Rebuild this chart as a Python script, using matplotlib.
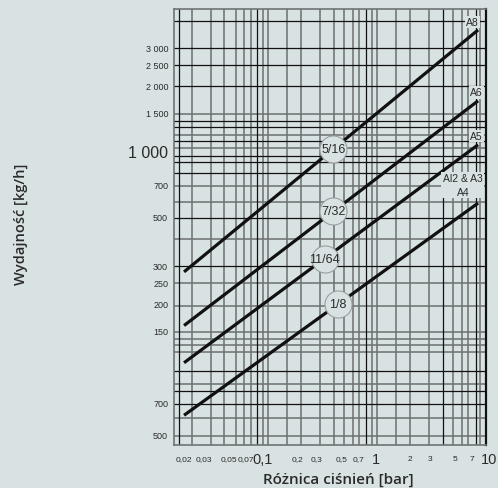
import numpy as np
import matplotlib
matplotlib.use("Agg")
import matplotlib.pyplot as plt
import matplotlib.transforms as mtrans

# ---------------- data ----------------
series_names = ["A8", "A6", "A5", "A4"]
orifice_sizes = ["5/16", "7/32", "11/64", "1/8"]
pressure_diff = [0.02, 8.0]              # bar
flow_A8 = [282, 3630]                    # kg/h
flow_A6 = [160, 1718]
flow_A5 = [108, 1080]
flow_A4 = [62, 583]
size_label_dp = [0.42, 0.42, 0.35, 0.46]  # where the size circles sit
end_labels = ["A8", "A6", "A5", "Al2 & A3\nA4"]

x_tick_values = [0.02, 0.03, 0.05, 0.07, 0.1, 0.2, 0.3, 0.5, 0.7, 1, 2, 3, 5, 7, 10]
x_tick_labels = ["0,02", "0,03", "0,05", "0,07", "0,1", "0,2", "0,3", "0,5", "0,7",
                 "1", "2", "3", "5", "7", "10"]
x_big = ["0,1", "1", "10"]
y_tick_values = [50, 70, 150, 200, 250, 300, 500, 700, 1000, 1500, 2000, 2500, 3000]
y_tick_labels = ["500", "700", "150", "200", "250", "300", "500", "700", "1 000",
                 "1 500", "2 000", "2 500", "3 000"]
y_big = ["1 000"]

# decorative grid of the original drawing
vgrid_grey = [0.0235, 0.0347, 0.0452, 0.0577, 0.0679, 0.0783, 0.1, 0.1107, 0.163,
              0.217, 0.319, 0.425, 0.521, 0.626, 0.707, 0.922, 1.02, 1.50, 2.0,
              2.94, 4.80, 5.77, 6.52, 8.3]
vgrid_black = [0.0181, 0.0885, 0.816, 3.92, 7.67]
hgrid_grey = [50, 60, 86, 121, 130, 139, 150, 197, 250, 400, 590, 700, 1040, 1200, 1500]
hgrid_black = [70, 80, 99, 300, 500, 800, 900, 960, 1120, 1300, 1390, 2000, 2500, 3000, 4000]

BG = "#d9e2e3"
GREY = "#6f7373"
INK = "#111111"
TXT = "#2a2a2a"
NARROW = ["Liberation Sans Narrow", "Liberation Sans", "DejaVu Sans"]
SANS = ["Open Sans", "DejaVu Sans"]

fig = plt.figure(figsize=(4.98, 4.89), dpi=100, facecolor=BG)
ax = fig.add_axes([174 / 498, 1 - 446 / 489, 312 / 498, 436 / 489], facecolor=BG)
ax.set_xscale("log")
ax.set_yscale("log")
ax.set_xlim(0.0163, 9.4)
ax.set_ylim(45.3, 4530)
ax.set_xticks([])
ax.set_yticks([])
ax.minorticks_off()
ax.tick_params(which="both", length=0, labelbottom=False, labelleft=False)

for v in vgrid_grey:
    ax.axvline(v, color=GREY, lw=1.15, zorder=1)
for v in vgrid_black:
    ax.axvline(v, color=INK, lw=0.9, zorder=1.1)
for v in hgrid_grey:
    ax.axhline(v, color=GREY, lw=1.15, zorder=1)
for v in hgrid_black:
    ax.axhline(v, color=INK, lw=0.9, zorder=1.1)

for side in ["left", "top", "bottom"]:
    ax.spines[side].set_color(GREY)
    ax.spines[side].set_linewidth(1.2)
ax.spines["right"].set_color(INK)
ax.spines["right"].set_linewidth(1.6)

flows = [flow_A8, flow_A6, flow_A5, flow_A4]
for flow in flows:
    ax.plot(pressure_diff, flow, color=INK, lw=2.3, solid_capstyle="butt", zorder=3)

# size circles on the lines
lx = np.log10(pressure_diff)
for flow, lab, xd in zip(flows, orifice_sizes, size_label_dp):
    yd = 10 ** np.interp(np.log10(xd), lx, np.log10(flow))
    ax.plot([xd], [yd], marker="o", ms=19.5, mfc=BG, mec="#9a9e9e", mew=0.8, zorder=4)
    ax.text(xd, yd, lab, ha="center", va="center", fontsize=9, color=TXT,
            family=NARROW, zorder=5)

# end labels
end_offsets = [(-4, 6), (-1, 6), (-1, 6.5)]
for flow, lab, off in zip(flows[:3], end_labels[:3], end_offsets):
    ax.annotate(lab, (pressure_diff[-1], flow[-1]), xytext=off, textcoords="offset points",
                ha="center", va="center", fontsize=7.5, color=TXT, family=NARROW,
                bbox=dict(boxstyle="square,pad=0.1", fc=BG, ec="none"), zorder=6)
ax.annotate(end_labels[3], (pressure_diff[-1], flows[3][-1]), xytext=(-11, 13),
            textcoords="offset points", ha="center", va="center", fontsize=7.5,
            color=TXT, family=NARROW, linespacing=1.4,
            bbox=dict(boxstyle="square,pad=0.15", fc=BG, ec="none"), zorder=6)

# tick labels
tx = mtrans.blended_transform_factory(ax.transData, ax.transAxes)
for v, lab in zip(x_tick_values, x_tick_labels):
    big = lab in x_big
    ax.text(v, -0.032, lab, transform=tx, ha="center", va="center",
            fontsize=10.5 if big else 6, color=TXT, family=NARROW, clip_on=False)
ty = mtrans.blended_transform_factory(ax.transAxes, ax.transData)
for v, lab in zip(y_tick_values, y_tick_labels):
    big = lab in y_big
    ax.text(-0.019, v, lab, transform=ty, ha="right", va="center",
            fontsize=11.5 if big else 6.5, color=TXT, family=NARROW, clip_on=False)

fig.text(338 / 498, 1 - 480 / 489, "Różnica ciśnień [bar]", ha="center", va="center",
         fontsize=11, fontweight="semibold", color=TXT, family=SANS)
fig.text(21 / 498, 1 - 224 / 489, "Wydajność [kg/h]", ha="center", va="center",
         rotation=90, fontsize=10.5, fontweight="semibold", color=TXT, family=SANS)

fig.savefig("out.png", dpi=100, facecolor=BG)
